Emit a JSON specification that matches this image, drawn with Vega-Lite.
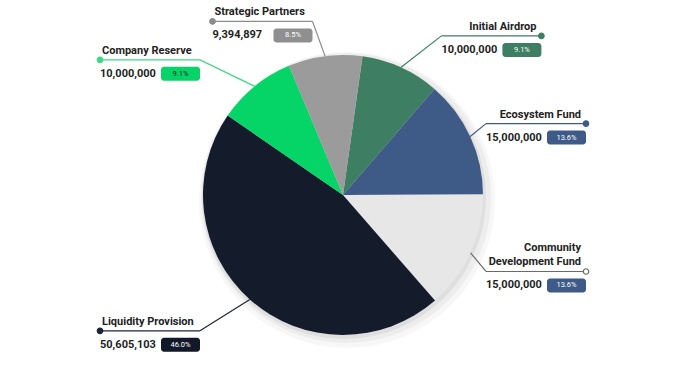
{
  "$schema": "https://vega.github.io/schema/vega-lite/v6.json",
  "autosize": {"type": "none"},
  "width": 686,
  "height": 360,
  "padding": {"left": 0, "top": 15, "right": 14, "bottom": 0},
  "background": "#ffffff",
  "config": {"view": {"stroke": null}, "font": "Roboto"},
  "data": {
    "values": [
      {"k": 1, "name": "Initial Airdrop", "amount": 10000000, "pct": "9.1%"},
      {"k": 2, "name": "Ecosystem Fund", "amount": 15000000, "pct": "13.6%"},
      {"k": 3, "name": "Community\nDevelopment Fund", "amount": 15000000, "pct": "13.6%"},
      {"k": 4, "name": "Liquidity Provision", "amount": 50605103, "pct": "46.0%"},
      {"k": 5, "name": "Company Reserve", "amount": 10000000, "pct": "9.1%"},
      {"k": 6, "name": "Strategic Partners", "amount": 9394897, "pct": "8.5%"}
    ]
  },
  "transform": [
    {"stack": "amount", "groupby": [], "sort": [{"field": "k", "order": "ascending"}], "as": ["s0", "s1"]},
    {"joinaggregate": [{"op": "sum", "field": "amount", "as": "tot"}]},
    {"calculate": "0.14 + PI*(datum.s0+datum.s1)/datum.tot", "as": "a"},
    {"calculate": "sin(datum.a) >= 0 ? 1 : -1", "as": "side"},
    {"calculate": "140*sin(datum.a)", "as": "p1x"},
    {"calculate": "-140*cos(datum.a)", "as": "p1y"},
    {"calculate": "143*datum.side*min(1, abs(sin(datum.a))/0.6)", "as": "kx"},
    {"calculate": "3 - 178*cos(datum.a)", "as": "ky"},
    {"calculate": "datum.kx + 100*datum.side", "as": "ex"},
    {"calculate": "min(datum.kx, datum.ex)", "as": "lx"},
    {"calculate": "max(datum.kx, datum.ex)", "as": "rx"},
    {"calculate": "datum.ky - 6 - (indexof(datum.name, 'Development') >= 0 ? 14 : 0)", "as": "ty"},
    {"calculate": "datum.ky + 14", "as": "vy"},
    {"calculate": "datum.ky + 7", "as": "by1"},
    {"calculate": "datum.ky + 21", "as": "by2"},
    {"calculate": "datum.rx - 39", "as": "bx1"},
    {"calculate": "datum.rx - 19.5", "as": "bxc"},
    {"calculate": "datum.lx + 2", "as": "tlx"},
    {"calculate": "datum.rx - 5", "as": "trx"}
  ],
  "resolve": {"scale": {"color": "independent", "fill": "independent", "stroke": "independent"}},
  "layer": [
    {
      "transform": [{"aggregate": [{"op": "sum", "field": "amount", "as": "t"}]}],
      "mark": {"type": "arc", "radius": 148, "fill": "#000000", "opacity": 0.03, "xOffset": 4, "yOffset": 5},
      "encoding": {}
    },
    {
      "transform": [{"aggregate": [{"op": "sum", "field": "amount", "as": "t"}]}],
      "mark": {"type": "arc", "radius": 145, "fill": "#000000", "opacity": 0.04, "xOffset": 3, "yOffset": 3},
      "encoding": {}
    },
    {
      "transform": [{"aggregate": [{"op": "sum", "field": "amount", "as": "t"}]}],
      "mark": {"type": "arc", "radius": 142, "fill": "#000000", "opacity": 0.06, "xOffset": 1, "yOffset": 2},
      "encoding": {}
    },
    {
      "mark": {"type": "arc", "radius": 140, "stroke": null},
      "encoding": {
        "theta": {"field": "amount", "type": "quantitative", "stack": true, "scale": {"range": [0.14, 6.4232]}},
        "order": {"field": "k", "type": "quantitative"},
        "color": {
          "field": "name", "type": "nominal", "legend": null,
          "scale": {
            "domain": ["Initial Airdrop", "Ecosystem Fund", "Community\nDevelopment Fund", "Liquidity Provision", "Company Reserve", "Strategic Partners"],
            "range": ["#3e7e62", "#3e5b87", "#e7e7e7", "#141c2c", "#05d467", "#9b9b9b"]
          }
        }
      }
    },
    {
      "mark": {"type": "rule", "strokeWidth": 1.2},
      "encoding": {
        "x": {"field": "p1x", "type": "quantitative", "axis": null, "scale": {"domain": [-343, 343], "nice": false, "zero": false}},
        "y": {"field": "p1y", "type": "quantitative", "axis": null, "scale": {"domain": [-180, 180], "reverse": true, "nice": false, "zero": false}},
        "x2": {"field": "kx"},
        "y2": {"field": "ky"},
        "stroke": {
          "field": "name", "type": "nominal", "legend": null,
          "scale": {
            "domain": ["Initial Airdrop", "Ecosystem Fund", "Community\nDevelopment Fund", "Liquidity Provision", "Company Reserve", "Strategic Partners"],
            "range": ["#3e7e62", "#3e5b87", "#6a6a6a", "#1c2536", "#3fd883", "#8c8c8c"]
          }
        }
      }
    },
    {
      "mark": {"type": "rule", "strokeWidth": 1.2},
      "encoding": {
        "x": {"field": "kx", "type": "quantitative", "axis": null, "scale": {"domain": [-343, 343], "nice": false, "zero": false}},
        "y": {"field": "ky", "type": "quantitative", "axis": null, "scale": {"domain": [-180, 180], "reverse": true, "nice": false, "zero": false}},
        "x2": {"field": "ex"},
        "stroke": {
          "field": "name", "type": "nominal", "legend": null,
          "scale": {
            "domain": ["Initial Airdrop", "Ecosystem Fund", "Community\nDevelopment Fund", "Liquidity Provision", "Company Reserve", "Strategic Partners"],
            "range": ["#3e7e62", "#3e5b87", "#6a6a6a", "#1c2536", "#3fd883", "#8c8c8c"]
          }
        }
      }
    },
    {
      "mark": {"type": "point", "size": 30, "strokeWidth": 1.2, "opacity": 1},
      "encoding": {
        "x": {"field": "ex", "type": "quantitative", "axis": null, "scale": {"domain": [-343, 343], "nice": false, "zero": false}},
        "y": {"field": "ky", "type": "quantitative", "axis": null, "scale": {"domain": [-180, 180], "reverse": true, "nice": false, "zero": false}},
        "stroke": {
          "field": "name", "type": "nominal", "legend": null,
          "scale": {
            "domain": ["Initial Airdrop", "Ecosystem Fund", "Community\nDevelopment Fund", "Liquidity Provision", "Company Reserve", "Strategic Partners"],
            "range": ["#3e7e62", "#3e5b87", "#6a6a6a", "#1c2536", "#3fd883", "#8c8c8c"]
          }
        },
        "fill": {
          "field": "name", "type": "nominal", "legend": null,
          "scale": {
            "domain": ["Initial Airdrop", "Ecosystem Fund", "Community\nDevelopment Fund", "Liquidity Provision", "Company Reserve", "Strategic Partners"],
            "range": ["#3e7e62", "#3e5b87", "#ffffff", "#1c2536", "#3fd883", "#8c8c8c"]
          }
        }
      }
    },
    {
      "transform": [{"filter": "datum.side < 0"}],
      "mark": {"type": "text", "align": "left", "baseline": "alphabetic", "fontSize": 11, "fontWeight": "bold", "color": "#222222", "lineBreak": "\n", "lineHeight": 14},
      "encoding": {
        "x": {"field": "tlx", "type": "quantitative", "axis": null, "scale": {"domain": [-343, 343], "nice": false, "zero": false}},
        "y": {"field": "ty", "type": "quantitative", "axis": null, "scale": {"domain": [-180, 180], "reverse": true, "nice": false, "zero": false}},
        "text": {"field": "name"}
      }
    },
    {
      "transform": [{"filter": "datum.side > 0"}],
      "mark": {"type": "text", "align": "right", "baseline": "alphabetic", "fontSize": 11, "fontWeight": "bold", "color": "#222222", "lineBreak": "\n", "lineHeight": 14},
      "encoding": {
        "x": {"field": "trx", "type": "quantitative", "axis": null, "scale": {"domain": [-343, 343], "nice": false, "zero": false}},
        "y": {"field": "ty", "type": "quantitative", "axis": null, "scale": {"domain": [-180, 180], "reverse": true, "nice": false, "zero": false}},
        "text": {"field": "name"}
      }
    },
    {
      "mark": {"type": "text", "align": "left", "baseline": "middle", "fontSize": 11, "fontWeight": "bold", "color": "#1e1e1e"},
      "encoding": {
        "x": {"field": "lx", "type": "quantitative", "axis": null, "scale": {"domain": [-343, 343], "nice": false, "zero": false}},
        "y": {"field": "vy", "type": "quantitative", "axis": null, "scale": {"domain": [-180, 180], "reverse": true, "nice": false, "zero": false}},
        "text": {"field": "amount", "type": "quantitative", "format": ","}
      }
    },
    {
      "mark": {"type": "rect", "cornerRadius": 3},
      "encoding": {
        "x": {"field": "bx1", "type": "quantitative", "axis": null, "scale": {"domain": [-343, 343], "nice": false, "zero": false}},
        "x2": {"field": "rx"},
        "y": {"field": "by1", "type": "quantitative", "axis": null, "scale": {"domain": [-180, 180], "reverse": true, "nice": false, "zero": false}},
        "y2": {"field": "by2"},
        "color": {
          "field": "name", "type": "nominal", "legend": null,
          "scale": {
            "domain": ["Initial Airdrop", "Ecosystem Fund", "Community\nDevelopment Fund", "Liquidity Provision", "Company Reserve", "Strategic Partners"],
            "range": ["#3e7e62", "#3e5b87", "#3e5b87", "#111827", "#05d467", "#8f8f8f"]
          }
        }
      }
    },
    {
      "mark": {"type": "text", "align": "center", "baseline": "middle", "fontSize": 7.5},
      "encoding": {
        "x": {"field": "bxc", "type": "quantitative", "axis": null, "scale": {"domain": [-343, 343], "nice": false, "zero": false}},
        "y": {"field": "vy", "type": "quantitative", "axis": null, "scale": {"domain": [-180, 180], "reverse": true, "nice": false, "zero": false}},
        "text": {"field": "pct"},
        "color": {"condition": {"test": "datum.name === 'Company Reserve'", "value": "#1b1b1b"}, "value": "#ffffff"}
      }
    }
  ]
}
